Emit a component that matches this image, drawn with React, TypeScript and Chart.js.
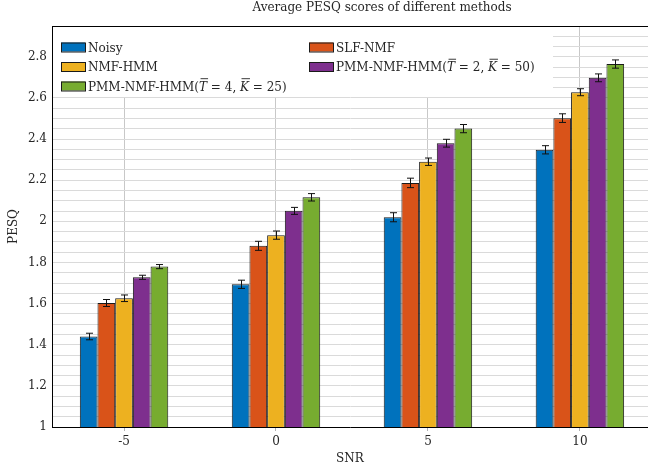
import { useEffect, useRef } from 'react';
import { Chart, registerables } from 'chart.js';

Chart.register(...registerables);

const chartTitle = 'Average PESQ scores of different methods';
const xAxisTitle = 'SNR';
const yAxisTitle = 'PESQ';

const snrLevels = [-5, 0, 5, 10];

const seriesNames = [
  'Noisy',
  'SLF-NMF',
  'NMF-HMM',
  'PMM-NMF-HMM(T\u0305 = 2, K\u0305 = 50)',
  'PMM-NMF-HMM(T\u0305 = 4, K\u0305 = 25)',
];

const noisy = [1.44, 1.694, 2.02, 2.348];
const slfNmf = [1.603, 1.881, 2.187, 2.502];
const nmfHmm = [1.626, 1.933, 2.29, 2.628];
const pmmT2K50 = [1.728, 2.051, 2.38, 2.698];
const pmmT4K25 = [1.78, 2.117, 2.451, 2.765];

const noisyErr = [0.016, 0.02, 0.022, 0.02];
const slfNmfErr = [0.017, 0.022, 0.023, 0.021];
const nmfHmmErr = [0.016, 0.02, 0.018, 0.017];
const pmmT2K50Err = [0.01, 0.017, 0.019, 0.019];
const pmmT4K25Err = [0.01, 0.018, 0.02, 0.02];

const yMin = 1;
const yMax = 2.95;
const yStep = 0.05;
const yLabelStep = 0.2;
const xMin = -7.37;
const xMax = 12.24;

const colors = ['#0072BD', '#D95319', '#EDB120', '#7E2F8E', '#77AC30'];
const FAMILY = '"DejaVu Serif", "Liberation Serif", serif';
const TEXT = '#262626';

const seriesValues = [noisy, slfNmf, nmfHmm, pmmT2K50, pmmT4K25];
const seriesErrors = [noisyErr, slfNmfErr, nmfHmmErr, pmmT2K50Err, pmmT4K25Err];

function drawRich(ctx: CanvasRenderingContext2D, text: string, x: number, y: number, size: number) {
  let cx = x;
  let buf = '';
  const flush = () => {
    if (!buf) return;
    ctx.font = `${size}px ${FAMILY}`;
    ctx.fillText(buf, cx, y);
    cx += ctx.measureText(buf).width;
    buf = '';
  };
  let i = 0;
  while (i < text.length) {
    const ch = text[i];
    if (text[i + 1] === '\u0305') {
      flush();
      ctx.font = `italic ${size}px ${FAMILY}`;
      ctx.fillText(ch, cx, y);
      const w = ctx.measureText(ch).width;
      ctx.fillRect(cx + 1.5, y - size * 1.02, w - 0.5, 0.9);
      cx += w;
      i += 2;
    } else {
      buf += ch;
      i += 1;
    }
  }
  flush();
}

const errorBarPlugin = {
  id: 'errorBars',
  afterDatasetsDraw(chart: any) {
    const ctx = chart.ctx as CanvasRenderingContext2D;
    const yScale = chart.scales.y;
    ctx.save();
    ctx.strokeStyle = '#111';
    ctx.lineWidth = 1;
    chart.data.datasets.forEach((ds: any, di: number) => {
      const meta = chart.getDatasetMeta(di);
      meta.data.forEach((bar: any, i: number) => {
        const v = seriesValues[di][i];
        const e = seriesErrors[di][i];
        const x = Math.round(bar.x) + 0.5;
        const yTop = yScale.getPixelForValue(v + e);
        const yBot = yScale.getPixelForValue(v - e);
        const cap = 3.5;
        ctx.beginPath();
        ctx.moveTo(x, yTop);
        ctx.lineTo(x, yBot);
        ctx.moveTo(x - cap, yTop);
        ctx.lineTo(x + cap, yTop);
        ctx.moveTo(x - cap, yBot);
        ctx.lineTo(x + cap, yBot);
        ctx.stroke();
      });
    });
    ctx.restore();
  },
};

const legendPlugin = {
  id: 'customLegend',
  afterDatasetsDraw(chart: any) {
    const ctx = chart.ctx as CanvasRenderingContext2D;
    const area = chart.chartArea;
    ctx.save();
    ctx.fillStyle = '#ffffff';
    ctx.fillRect(area.left + 1, area.top + 1, 552 - area.left, 96 - area.top);
    const cols = [61, 309];
    const rows = [47, 66.5, 86];
    seriesNames.forEach((name, i) => {
      const cx = cols[i % 2];
      const cy = rows[Math.floor(i / 2)];
      ctx.fillStyle = colors[i];
      ctx.fillRect(cx, cy - 4.5, 24, 9);
      ctx.strokeStyle = '#1a1a1a';
      ctx.lineWidth = 1;
      ctx.strokeRect(cx + 0.5, cy - 4.5 + 0.5, 24, 9);
      ctx.fillStyle = TEXT;
      ctx.textBaseline = 'alphabetic';
      ctx.textAlign = 'left';
      drawRich(ctx, name, cx + 27, cy + 4.5, 12);
    });
    ctx.restore();
  },
};

const framePlugin = {
  id: 'frameAndTitle',
  afterDraw(chart: any) {
    const ctx = chart.ctx as CanvasRenderingContext2D;
    const area = chart.chartArea;
    ctx.save();
    ctx.strokeStyle = '#000';
    ctx.lineWidth = 1;
    ctx.beginPath();
    ctx.moveTo(area.left, area.top + 0.5);
    ctx.lineTo(area.right, area.top + 0.5);
    ctx.stroke();
    ctx.fillStyle = TEXT;
    ctx.font = `12px ${FAMILY}`;
    ctx.textAlign = 'center';
    ctx.textBaseline = 'middle';
    ctx.fillText(chartTitle, 382, 8);
    ctx.restore();
  },
};

export default function App() {
  const canvasRef = useRef<HTMLCanvasElement | null>(null);

  useEffect(() => {
    document.body.style.overflow = 'hidden';
    const canvas = canvasRef.current;
    if (!canvas) return;
    const chart = new Chart(canvas, {
      type: 'bar',
      data: {
        datasets: seriesNames.map((name, si) => ({
          label: name,
          data: snrLevels.map((s, i) => ({ x: s, y: seriesValues[si][i] })),
          backgroundColor: colors[si],
          borderColor: '#1a1a1a',
          borderWidth: 1,
          categoryPercentage: 0.582,
          barPercentage: 1,
        })),
      },
      options: {
        animation: false,
        responsive: false,
        maintainAspectRatio: false,
        layout: { padding: { top: 26, left: 0, right: 0, bottom: 0 } },
        plugins: {
          legend: { display: false },
          title: { display: false },
          tooltip: { enabled: false },
        },
        scales: {
          x: {
            type: 'linear',
            min: xMin,
            max: xMax,
            offset: false,
            afterBuildTicks: (scale: any) => {
              scale.ticks = snrLevels.map((v) => ({ value: v }));
            },
            afterFit: (scale: any) => {
              scale.height = 40;
            },
            ticks: {
              color: TEXT,
              font: { family: FAMILY, size: 12 },
              padding: 4,
              maxRotation: 0,
              callback: (v: any) => String(v),
            },
            grid: { offset: false, color: '#c8c8c8', lineWidth: 1, tickLength: 4, tickColor: '#b0b0b0' },
            border: { display: true, color: '#000', width: 1 },
            title: {
              display: true,
              text: xAxisTitle,
              color: TEXT,
              font: { family: FAMILY, size: 12 },
              padding: { top: 0, bottom: 1 },
            },
          },
          y: {
            type: 'linear',
            min: yMin,
            max: yMax,
            afterFit: (scale: any) => {
              scale.width = 52;
            },
            ticks: {
              stepSize: yStep,
              autoSkip: false,
              color: TEXT,
              font: { family: FAMILY, size: 12 },
              padding: 5,
              callback: (v: any) => {
                const n = Number(v);
                const k = (n - yMin) / yLabelStep;
                if (Math.abs(k - Math.round(k)) < 1e-6) {
                  return String(Math.round(n * 10) / 10);
                }
                return '';
              },
            },
            grid: { color: '#dadada', lineWidth: 1, drawTicks: false },
            border: { display: true, color: '#000', width: 1 },
            title: {
              display: true,
              text: yAxisTitle,
              color: TEXT,
              font: { family: FAMILY, size: 12 },
              padding: { top: 7, bottom: 0 },
            },
          },
        },
      },
      plugins: [errorBarPlugin, legendPlugin, framePlugin],
    } as any);
    return () => chart.destroy();
  }, []);

  return (
    <div style={{ position: 'absolute', left: 0, top: 0, width: 648, height: 467, overflow: 'hidden' }}>
      <canvas ref={canvasRef} width={648} height={467} style={{ width: 648, height: 467, display: 'block' }} />
    </div>
  );
}
